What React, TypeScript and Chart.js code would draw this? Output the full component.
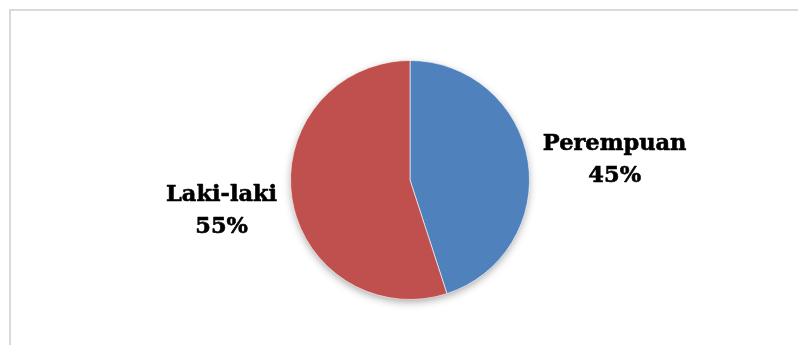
import React, { useEffect, useRef } from "react";
import { Chart, registerables } from "chart.js";

Chart.register(...registerables);

const categories: string[] = ["Perempuan", "Laki-laki"];
const values: number[] = [45, 55];
const sliceColors: string[] = ["#4F81BD", "#C0504D"];

const FONT = "bold 22.5px 'DejaVu Serif'";

export default function App() {
  const ref = useRef<HTMLCanvasElement | null>(null);

  useEffect(() => {
    document.body.style.margin = "0";
    if (!ref.current) return;
    const total = values.reduce((a, b) => a + b, 0);

    const shadowPlugin = {
      id: "pieShadow",
      beforeDatasetsDraw(chart: any) {
        const meta = chart.getDatasetMeta(0);
        const a: any = meta.data[0];
        if (!a) return;
        const ctx = chart.ctx;
        ctx.save();
        ctx.shadowColor = "rgba(0,0,0,0.38)";
        ctx.shadowBlur = 9;
        ctx.shadowOffsetY = 3;
        ctx.fillStyle = "#ffffff";
        ctx.beginPath();
        ctx.arc(a.x, a.y, a.outerRadius - 1, 0, Math.PI * 2);
        ctx.fill();
        ctx.restore();
      },
    };

    const labelPlugin = {
      id: "outLabels",
      afterDatasetsDraw(chart: any) {
        const meta = chart.getDatasetMeta(0);
        const ctx = chart.ctx;
        ctx.save();
        ctx.font = FONT;
        ctx.fillStyle = "#000000";
        ctx.strokeStyle = "#000000";
        ctx.lineWidth = 0.6;
        ctx.lineJoin = "round";
        ctx.textAlign = "center";
        ctx.textBaseline = "alphabetic";
        meta.data.forEach((arc: any, i: number) => {
          const mid = (arc.startAngle + arc.endAngle) / 2;
          const dx = Math.cos(mid);
          const dy = Math.sin(mid);
          const r = arc.outerRadius + 15;
          const ax = arc.x + r * dx;
          const ay = arc.y + r * dy;
          const pct = Math.round((values[i] / total) * 100) + "%";
          const lines = [categories[i], pct];
          const w = Math.max(...lines.map((l) => ctx.measureText(l).width));
          const cx = dx >= 0 ? ax + w / 2 : ax - w / 2;
          const cy = ay + 3.5 + 28.8 * dy;
          ctx.fillText(lines[0], cx, cy - 8);
          ctx.strokeText(lines[0], cx, cy - 8);
          ctx.fillText(lines[1], cx, cy + 24);
          ctx.strokeText(lines[1], cx, cy + 24);
        });
        ctx.restore();
      },
    };

    const chart = new Chart(ref.current, {
      type: "pie",
      data: {
        labels: categories,
        datasets: [
          {
            data: values,
            backgroundColor: sliceColors,
            borderColor: "rgba(255,255,255,0.6)",
            borderWidth: 1,
          },
        ],
      },
      options: {
        animation: false,
        responsive: false,
        maintainAspectRatio: false,
        layout: { padding: { top: 60, bottom: 45, left: 200, right: 178 } },
        plugins: {
          legend: { display: false },
          tooltip: { enabled: false },
          title: { display: false },
        },
      },
      plugins: [shadowPlugin, labelPlugin],
    } as any);
    return () => chart.destroy();
  }, []);

  return (
    <div style={{ position: "relative", width: 798, height: 345, overflow: "hidden", background: "#fff" }}>
      <div
        style={{
          position: "absolute",
          left: 9,
          top: 9,
          width: 900,
          height: 400,
          border: "2px solid #d9d9d9",
          boxSizing: "border-box",
        }}
      />
      <canvas ref={ref} width={798} height={345} style={{ position: "absolute", left: 0, top: 0 }} />
    </div>
  );
}
